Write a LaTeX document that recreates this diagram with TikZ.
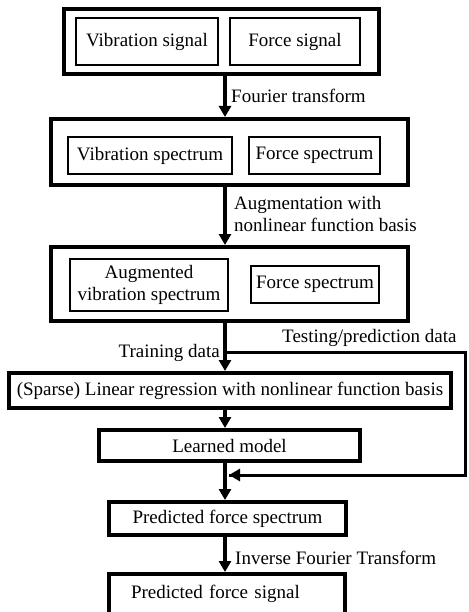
\documentclass[tikz,border=0pt]{standalone}
\usepackage{fontspec}
\setmainfont{Liberation Serif}
\usetikzlibrary{arrows.meta}
\newcommand\figfont{\fontsize{19}{22}\selectfont}
\begin{document}
\begin{tikzpicture}[x=1pt,y=-1pt,
  outerbox/.style={draw,line width=4pt,inner sep=0pt,align=center,font=\figfont},
  innerbox/.style={draw,line width=2pt,inner sep=0pt,align=center,font=\figfont},
  flow/.style={line width=4pt,-{Triangle[width=12pt,length=11pt]}},
  sideline/.style={line width=3pt},
  lbl/.style={font=\figfont,inner sep=0pt,align=left}]
\useasboundingbox (0,0) rectangle (468,612);
\begin{scope}
\clip (0,0) rectangle (468,612);
% top block
\node[outerbox,minimum width=315pt,minimum height=65pt] (b1) at (221.5,41.5) {};
\node[innerbox,minimum width=142pt,minimum height=47pt] (vs1) at (147,41.5) {Vibration signal};
\node[innerbox,minimum width=130pt,minimum height=47pt] (fs1) at (295,41.5) {Force signal};
% second block
\node[outerbox,minimum width=357pt,minimum height=66pt] (b2) at (229.5,152) {};
\node[innerbox,minimum width=164pt,minimum height=37pt] (vs2) at (150,155.5) {Vibration spectrum};
\node[innerbox,minimum width=131pt,minimum height=37pt] (fs2) at (314.5,155.5) {Force spectrum};
% third block
\node[outerbox,minimum width=357pt,minimum height=74pt] (b3) at (229.5,284) {};
\node[innerbox,minimum width=158pt,minimum height=52pt] (avs) at (149,285) {Augmented\\vibration spectrum};
\node[innerbox,minimum width=128pt,minimum height=37pt] (fs3) at (315,284.5) {Force spectrum};
% lower chain
\node[outerbox,minimum width=442pt,minimum height=35pt] (reg) at (230,390.5) {(Sparse) Linear regression with nonlinear function basis};
\node[outerbox,minimum width=261pt,minimum height=31pt] (lm) at (229.5,445.5) {Learned model};
\node[outerbox,minimum width=237pt,minimum height=33pt] (pfs) at (227.5,518.5) {Predicted force spectrum};
\node[outerbox,minimum width=236pt,minimum height=40pt,text width=192pt,inner xsep=22pt,align=left] (pfsig) at (227,594) {Predicted force signal};
% spine coordinates
\coordinate (sp) at (225,0);
\coordinate (br) at (225,352);
\coordinate (rt) at (465,352);
\coordinate (rb) at (465,475);
\coordinate (mg) at (229,475);
% arrows
\draw[flow] (b1.south -| sp) -- (b2.north -| sp);
\draw[flow] (b2.south -| sp) -- (b3.north -| sp);
\draw[flow] (b3.south -| sp) -- (reg.north -| sp);
\draw[flow] (reg.south -| sp) -- (lm.north -| sp);
\draw[flow] (lm.south -| sp) -- (pfs.north -| sp);
\draw[flow] (pfs.south -| sp) -- (pfsig.north -| sp);
\draw[sideline] (br) -- (rt) -- (rb) -- (mg);
\draw[line width=3pt,-{Triangle[width=12pt,length=11pt]}] (rb) -- (mg);
% labels
\node[lbl,anchor=west] (l1) at (231,96) {Fourier transform};
\node[lbl,anchor=west] (l2) at (234,214) {Augmentation with\\nonlinear function basis};
\node[lbl,anchor=east] (l3) at (220,353) {Training data};
\node[lbl,anchor=west] (l4) at (282,338) {Testing/prediction data};
\node[lbl,anchor=west] (l5) at (235,558) {Inverse Fourier Transform};
\end{scope}
\end{tikzpicture}
\end{document}
